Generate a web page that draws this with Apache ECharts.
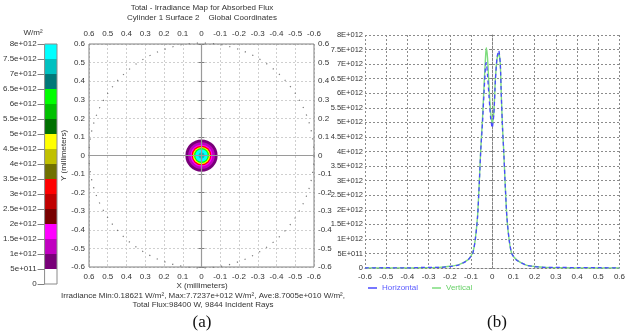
<!DOCTYPE html>
<html>
<head>
<meta charset="utf-8">
<script src="https://cdn.jsdelivr.net/npm/echarts@6/dist/echarts.min.js"></script>
<style>
    html, body {margin: 0; padding: 0; background: #fff;}
    #main {width: 628px; height: 336px;}
</style>
</head>
<body>
<div id="main"></div>
<script>
// colour scale of the irradiance map (W/m2), bottom to top
var levelEdges = [0, 5e11, 1e12, 1.5e12, 2e12, 2.5e12, 3e12, 3.5e12, 4e12,
    4.5e12, 5e12, 5.5e12, 6e12, 6.5e12, 7e12, 7.5e12, 8e12];
var levelColors = ['#ffffff', '#780078', '#c000c0', '#ff00ff', '#780000', '#c00000', '#ff0000', '#707000',
    '#c0c000', '#ffff00', '#007000', '#00c000', '#00ff00', '#007878', '#00c0c0', '#00ffff'];

// irradiance map, drawn as rings from outside in: radius (mm) and irradiance (W/m2)
var ringRadius = [0.086, 0.071, 0.058, 0.052, 0.046, 0.040, 0.033, 0.016, 0.006];
var ringLevel = [0.75e12, 1.25e12, 1.75e12, 3.25e12, 4.75e12, 6.25e12, 7.75e12, 7.25e12, 6.25e12];
var apertureRadius = [0.6];

// profiles through the centre (x in mm, irradiance in W/m2)
var profX = [-0.6, -0.5, -0.4, -0.32, -0.25, -0.2, -0.16, -0.115, -0.092, -0.08, -0.069, -0.061, -0.054,
    -0.046, -0.038, -0.031, -0.028, -0.022, -0.015, -0.008, 0, 0.008, 0.015, 0.023, 0.031, 0.038,
    0.043, 0.049, 0.054, 0.061, 0.069, 0.08, 0.092, 0.115, 0.16, 0.2, 0.25, 0.32, 0.4, 0.5, 0.6];
var horizY = [0, 0.01e12, 0, 0.02e12, 0.02e12, 0.05e12, 0.1e12, 0.27e12, 0.5e12, 0.96e12, 1.76e12, 2.9e12, 4.05e12,
    4.97e12, 6.11e12, 7.0e12, 7.05e12, 6.6e12, 5.88e12, 5.19e12, 4.81e12, 5.31e12, 6.45e12, 7.25e12, 7.47e12, 7.03e12,
    5.88e12, 4.74e12, 4.05e12, 2.9e12, 1.76e12, 0.96e12, 0.5e12, 0.27e12, 0.1e12, 0.05e12, 0.02e12, 0.02e12, 0.01e12, 0.01e12, 0];
var vertY = [0, 0, 0, 0.01e12, 0.02e12, 0.06e12, 0.11e12, 0.28e12, 0.52e12, 0.98e12, 1.8e12, 2.95e12, 4.1e12,
    5.1e12, 6.35e12, 7.3e12, 7.56e12, 7.2e12, 6.2e12, 5.4e12, 4.95e12, 5.4e12, 6.5e12, 7.2e12, 7.38e12, 7.0e12,
    5.9e12, 4.75e12, 4.05e12, 2.9e12, 1.75e12, 0.95e12, 0.5e12, 0.28e12, 0.1e12, 0.05e12, 0.02e12, 0.01e12, 0, 0, 0];

var FONT = '"Liberation Sans", Arial, sans-serif';
var txt = '#333';

var mmLabel = function (v) {
    return String(Math.round(v * 10) / 10);
};
var sciLabel = function (e) {
    return function (v) {
        if (v === 0) return '0';
        var p = Math.floor(Math.log10(v) + 1e-9);
        var m = Math.round(v / Math.pow(10, p) * 100) / 100;
        return m + e + '+0' + p;
    };
};

var myChart = echarts.init(document.getElementById('main'), null, {renderer: 'canvas'});

var mmAxis = function (pos, showLabel) {
    return {
        type: 'value', position: pos, min: -0.6, max: 0.6, interval: 0.1,
        axisLine: {show: false}, axisTick: {show: false},
        axisLabel: {show: showLabel, formatter: mmLabel, fontSize: 8, fontFamily: FONT, color: txt, margin: 4},
        splitLine: {show: false}
    };
};

var xLeftBottom = mmAxis('bottom', true);
xLeftBottom.inverse = true;
xLeftBottom.gridIndex = 0;
xLeftBottom.axisLabel.margin = 6;
xLeftBottom.splitLine = {show: true, lineStyle: {color: '#cfcfcf', type: [2, 2], width: 1}};
var xLeftTop = mmAxis('top', true);
xLeftTop.inverse = true;
xLeftTop.gridIndex = 0;
xLeftTop.axisLabel.margin = 6;

var yLeftLeft = mmAxis('left', true);
yLeftLeft.gridIndex = 0;
yLeftLeft.axisTick = {show: true, inside: false, length: 3, lineStyle: {color: '#808080'}};
yLeftLeft.axisLabel.margin = 4;
yLeftLeft.splitLine = {show: true, lineStyle: {color: '#cfcfcf', type: [2, 2], width: 1}};
yLeftLeft.name = 'Y (millimeters)';
yLeftLeft.nameLocation = 'middle';
yLeftLeft.nameRotate = 90;
yLeftLeft.nameGap = 21;
yLeftLeft.nameTextStyle = {fontSize: 8, fontFamily: FONT, color: txt};
var yLeftRight = mmAxis('right', true);
yLeftRight.gridIndex = 0;
yLeftRight.axisTick = {show: true, inside: false, length: 3, lineStyle: {color: '#808080'}};
yLeftRight.axisLabel.margin = 4;

var option = {
    animation: false,
    backgroundColor: '#fff',
    grid: [
        {left: 89, top: 44, width: 225, height: 223, show: true, borderColor: '#808080', borderWidth: 1, z: 5},
        {left: 40, top: 44, width: 17, height: 240, show: true, borderColor: '#8a8a8a', borderWidth: 1, z: 5},
        {left: 365, top: 35, width: 260, height: 233}
    ],
    xAxis: [
        xLeftBottom,
        xLeftTop,
        {gridIndex: 1, type: 'category', data: ['W/m²'], show: false},
        {
            gridIndex: 2, type: 'value', min: -0.6, max: 0.6, interval: 0.1,
            axisLine: {show: true, lineStyle: {color: '#808080', type: [2, 2]}},
            axisTick: {show: false},
            axisLabel: {formatter: mmLabel, fontSize: 8, fontFamily: FONT, color: txt, margin: 5},
            splitLine: {show: true, lineStyle: {color: '#8c8c8c', type: [2, 2], width: 1}}
        }
    ],
    yAxis: [
        yLeftLeft,
        yLeftRight,
        {
            gridIndex: 1, type: 'value', min: 0, max: 8e12, interval: 5e11,
            axisLine: {show: false},
            axisTick: {show: true, length: 7, lineStyle: {color: '#808080'}},
            axisLabel: {formatter: sciLabel('e'), fontSize: 8, fontFamily: FONT, color: txt, margin: 8},
            splitLine: {show: false}
        },
        {
            gridIndex: 2, type: 'value', min: 0, max: 8e12, interval: 5e11,
            axisLine: {show: true, lineStyle: {color: '#808080', type: [2, 2]}},
            axisTick: {show: true, length: 2, lineStyle: {color: '#808080'}},
            axisLabel: {formatter: sciLabel('E'), fontSize: 7.5, fontFamily: FONT, color: txt, margin: 2},
            splitLine: {show: true, lineStyle: {color: '#8c8c8c', type: [2, 2], width: 1}}
        }
    ],
    visualMap: {
        type: 'piecewise', show: false, seriesIndex: 1, dimension: 3,
        pieces: levelColors.map(function (c, i) {
            return {gte: levelEdges[i], lt: levelEdges[i + 1], color: c};
        })
    },
    legend: {
        left: 363, top: 279, itemWidth: 9, itemHeight: 1.5, itemGap: 14, icon: 'rect',
        textStyle: {fontSize: 8, fontFamily: FONT},
        data: [
            {name: 'Horizontal', textStyle: {color: '#5a5aff'}},
            {name: 'Vertical', textStyle: {color: '#66d066'}}
        ]
    },
    series: [
        {
            // dotted outline of the surface, plus the centre cross
            type: 'custom', xAxisIndex: 0, yAxisIndex: 0, silent: true, z: 2,
            data: apertureRadius.map(function (r) {
                return [0, 0, r];
            }),
            encode: {x: 0, y: 1},
            renderItem: function (params, api) {
                var c = api.coord([api.value(0), api.value(1)]);
                var s = api.size([api.value(2), api.value(2)]);
                return {
                    type: 'circle',
                    shape: {cx: c[0], cy: c[1], r: Math.abs(s[0])},
                    style: {fill: 'none', stroke: '#777', lineWidth: 1.2, lineDash: [1.2, 7]}
                };
            },
            markLine: {
                silent: true, symbol: 'none', label: {show: false},
                lineStyle: {color: '#9a9a9a', type: 'solid', width: 1.2},
                data: [{xAxis: 0}, {yAxis: 0}]
            }
        },
        {
            type: 'custom', xAxisIndex: 0, yAxisIndex: 0, silent: true, z: 4,
            data: ringRadius.map(function (r, i) {
                return [0, 0, r, ringLevel[i]];
            }),
            encode: {x: 0, y: 1},
            renderItem: function (params, api) {
                var c = api.coord([api.value(0), api.value(1)]);
                var s = api.size([api.value(2), api.value(2)]);
                return {
                    type: 'circle',
                    shape: {cx: c[0], cy: c[1], r: Math.abs(s[0])},
                    style: {fill: api.visual('color'), stroke: 'none'}
                };
            }
        },
        {
            name: 'Vertical', type: 'line', xAxisIndex: 3, yAxisIndex: 3,
            symbol: 'none', smooth: 0.2, color: '#7ddc7d',
            lineStyle: {width: 1.4, color: '#7ddc7d'},
            data: profX.map(function (x, i) {
                return [x, vertY[i]];
            })
        },
        {
            name: 'Horizontal', type: 'line', xAxisIndex: 3, yAxisIndex: 3,
            symbol: 'none', smooth: 0.2, color: '#4a4aff',
            lineStyle: {width: 1.3, color: '#4a4aff', type: [4, 3]},
            data: profX.map(function (x, i) {
                return [x, horizY[i]];
            })
        }
    ].concat(levelColors.map(function (c, i) {
        return {
            type: 'bar', stack: 'cb', xAxisIndex: 2, yAxisIndex: 2, silent: true,
            barWidth: '100%', itemStyle: {color: c},
            data: [levelEdges[i + 1] - levelEdges[i]]
        };
    })),
    graphic: [
        {type: 'text', x: 33, y: 33, style: {text: 'W/m²', font: '8px ' + FONT, fill: txt, align: 'center', verticalAlign: 'middle'}},
        {type: 'text', x: 202, y: 8, style: {text: 'Total - Irradiance Map for Absorbed Flux', font: '8px ' + FONT, fill: txt, align: 'center', verticalAlign: 'middle'}},
        {type: 'text', x: 202, y: 18, style: {text: 'Cylinder 1 Surface 2    Global Coordinates', font: '8px ' + FONT, fill: txt, align: 'center', verticalAlign: 'middle'}},
        {type: 'text', x: 202, y: 286, style: {text: 'X (millimeters)', font: '8px ' + FONT, fill: txt, align: 'center', verticalAlign: 'middle'}},
        {type: 'text', x: 203, y: 296, style: {text: 'Irradiance Min:0.18621 W/m², Max:7.7237e+012 W/m², Ave:8.7005e+010 W/m²,', font: '8px ' + FONT, fill: txt, align: 'center', verticalAlign: 'middle'}},
        {type: 'text', x: 203, y: 305, style: {text: 'Total Flux:98400 W, 9844 Incident Rays', font: '8px ' + FONT, fill: txt, align: 'center', verticalAlign: 'middle'}},
        {type: 'text', x: 202, y: 323, style: {text: '(a)', font: '17px "Liberation Serif", "DejaVu Serif", serif', fill: '#111', align: 'center', verticalAlign: 'middle'}},
        {type: 'text', x: 497, y: 323, style: {text: '(b)', font: '17px "Liberation Serif", "DejaVu Serif", serif', fill: '#111', align: 'center', verticalAlign: 'middle'}}
    ]
};

myChart.setOption(option);
</script>
</body>
</html>
